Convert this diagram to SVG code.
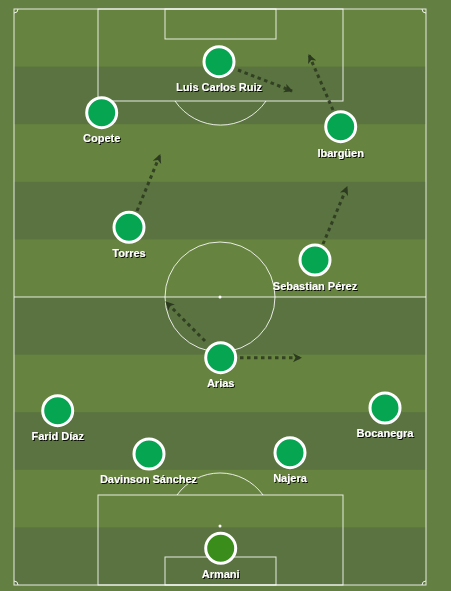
<svg xmlns="http://www.w3.org/2000/svg" width="451" height="591" viewBox="0 0 451 591">
<defs>
<style>
.line{fill:none;stroke:#ffffff;stroke-opacity:0.85;stroke-width:1}
.light{fill:#66843f}
.dark{fill:#5a7340}
.pl circle{fill:#06a552;stroke:#ffffff;stroke-width:3}
.pl circle.gk{fill:#3b8d1b}
.pl text{font-family:"Liberation Sans",Arial,sans-serif;font-weight:bold;font-size:11px;fill:#ffffff;text-anchor:middle;filter:url(#sh)}
.run{fill:none;stroke:#2c3b20;stroke-opacity:0.9;stroke-width:3;stroke-dasharray:3.5 3.5;marker-end:url(#ah)}
</style>
<filter id="sh" x="-10%" y="-30%" width="120%" height="160%">
<feDropShadow dx="1" dy="1" stdDeviation="0.4" flood-color="#000000" flood-opacity="0.9"/>
</filter>
<marker id="ah" markerUnits="userSpaceOnUse" markerWidth="10" markerHeight="10" refX="8" refY="4.5" orient="auto">
<path d="M0,0 L9,4.5 L0,9 L2.5,4.5 Z" fill="#2c3b20"/>
</marker>
</defs>
<rect x="0" y="0" width="451" height="591" fill="#637f41"/>
<g id="pitch">
<rect class="light" x="14" y="9" width="412" height="576"/>
<rect class="dark" x="14" y="66.6" width="412" height="57.6"/>
<rect class="dark" x="14" y="181.8" width="412" height="57.6"/>
<rect class="dark" x="14" y="297" width="412" height="57.6"/>
<rect class="dark" x="14" y="412.2" width="412" height="57.6"/>
<rect class="dark" x="14" y="527.4" width="412" height="57.6"/>
<rect class="line" x="14" y="9" width="412" height="576"/>
<line class="line" x1="14" y1="297" x2="426" y2="297"/>
<circle class="line" cx="220" cy="297" r="55"/>
<circle cx="220" cy="297" r="1.5" fill="#ffffff"/>
<rect class="line" x="98" y="9" width="245" height="92"/>
<rect class="line" x="165" y="9" width="111" height="30"/>
<path class="line" d="M175,101 A55,55 0 0 0 266,101"/>
<rect class="line" x="98" y="495" width="245" height="90"/>
<rect class="line" x="165" y="557" width="111" height="28"/>
<path class="line" d="M177,495 A53,53 0 0 1 263,495"/>
<circle cx="220" cy="526" r="1.5" fill="#ffffff"/>
<path class="line" d="M14,13 A4,4 0 0 0 18,9 M422,9 A4,4 0 0 0 426,13 M14,581 A4,4 0 0 1 18,585 M422,585 A4,4 0 0 1 426,581"/>
</g>
<g id="connectors">
<path class="run" d="M238,70 L292,91"/>
<path class="run" d="M333,110 L309,55"/>
<path class="run" d="M137,211 L160,155"/>
<path class="run" d="M323,244 L347,187"/>
<path class="run" d="M205,341 L166,302"/>
<path class="run" d="M240,357.7 L301,357.7"/>
</g>
<g id="luis-carlos-ruiz" class="pl"><circle cx="219" cy="61.7" r="15"/><text x="219" y="91">Luis Carlos Ruiz</text></g>
<g id="copete" class="pl"><circle cx="101.7" cy="112.7" r="15"/><text x="101.7" y="142">Copete</text></g>
<g id="ibarguen" class="pl"><circle cx="340.7" cy="126.7" r="15"/><text x="340.7" y="157">Ibargüen</text></g>
<g id="torres" class="pl"><circle cx="129" cy="227.3" r="15"/><text x="129" y="257">Torres</text></g>
<g id="sebastian-perez" class="pl"><circle cx="315" cy="260" r="15"/><text x="315" y="290">Sebastian Pérez</text></g>
<g id="arias" class="pl"><circle cx="220.7" cy="357.7" r="15"/><text x="220.7" y="387">Arias</text></g>
<g id="farid-diaz" class="pl"><circle cx="57.7" cy="410.7" r="15"/><text x="57.7" y="440">Farid Díaz</text></g>
<g id="bocanegra" class="pl"><circle cx="385" cy="408" r="15"/><text x="385" y="437">Bocanegra</text></g>
<g id="davinson-sanchez" class="pl"><circle cx="149" cy="454" r="15"/><text x="148.5" y="483">Davinson Sánchez</text></g>
<g id="najera" class="pl"><circle cx="290" cy="452.7" r="15"/><text x="290" y="482">Najera</text></g>
<g id="armani" class="pl"><circle class="gk" cx="220.7" cy="548.3" r="15"/><text x="220.7" y="578">Armani</text></g>
</svg>
